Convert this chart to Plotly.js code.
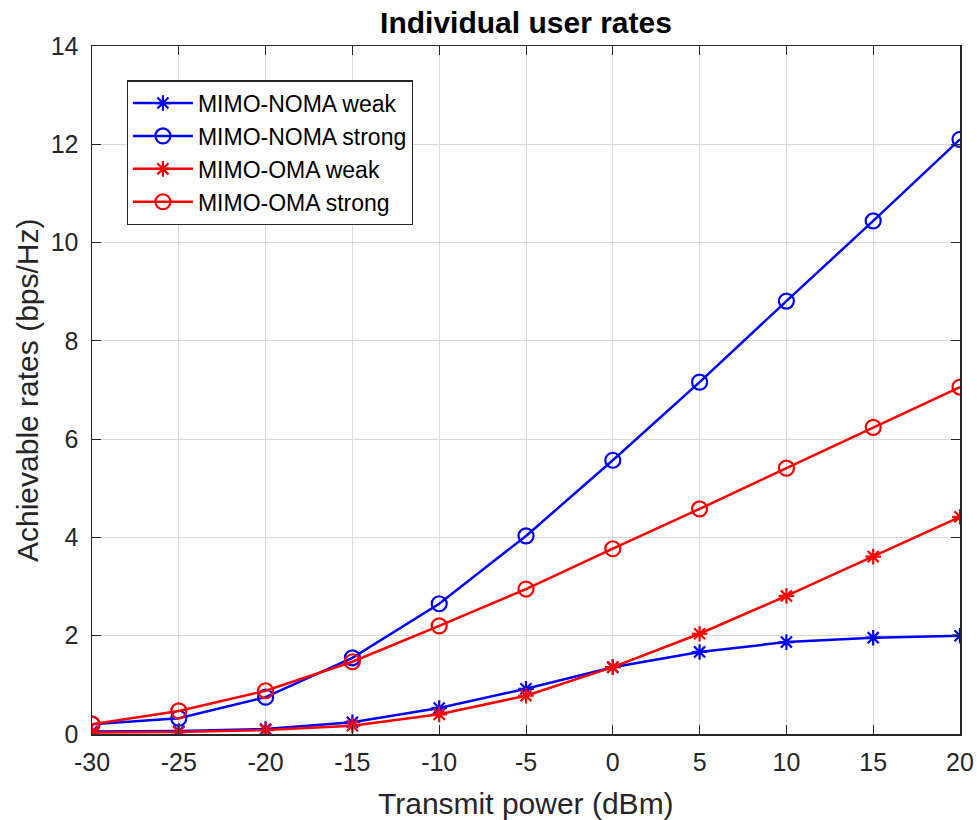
<!DOCTYPE html>
<html>
<head>
<meta charset="utf-8">
<script src="https://cdn.plot.ly/plotly-3.0.1.min.js"></script>
<style>body{margin:0;background:#fff;}#chart{width:977px;height:820px;}</style>
</head>
<body>
<div id="chart"></div>
<script>
const power = [-30, -25, -20, -15, -10, -5, 0, 5, 10, 15, 20];
const nomaWeak = [0.05, 0.06, 0.10, 0.24, 0.53, 0.92, 1.36, 1.67, 1.87, 1.96, 2.00];
const nomaStrong = [0.20, 0.32, 0.75, 1.55, 2.65, 4.03, 5.57, 7.16, 8.81, 10.44, 12.10];
const omaWeak = [0.03, 0.04, 0.08, 0.17, 0.40, 0.78, 1.36, 2.04, 2.81, 3.61, 4.42];
const omaStrong = [0.20, 0.47, 0.88, 1.47, 2.20, 2.95, 3.77, 4.58, 5.41, 6.24, 7.06];
const xTicks = [-30, -25, -20, -15, -10, -5, 0, 5, 10, 15, 20];
const yTicks = [0, 2, 4, 6, 8, 10, 12, 14];

function tr(y, name, color, sym) {
  return {
    x: power, y: y, name: name, type: 'scatter', mode: 'lines+markers',
    line: {color: color, width: 2.5},
    marker: {symbol: sym, size: sym === 'circle-open' ? 15 : 13, color: color, line: {color: color, width: 2.2}}
  };
}
const data = [
  tr(nomaWeak, 'MIMO-NOMA weak', '#0000ff', 'asterisk-open'),
  tr(nomaStrong, 'MIMO-NOMA strong', '#0000ff', 'circle-open'),
  tr(omaWeak, 'MIMO-OMA weak', '#ff0000', 'asterisk-open'),
  tr(omaStrong, 'MIMO-OMA strong', '#ff0000', 'circle-open')
];
const FONT = 'Liberation Sans, Arial, sans-serif';
const axisCommon = {
  showline: true, mirror: 'ticks', linecolor: '#262626', linewidth: 1.5,
  ticks: 'inside', ticklen: 9, tickcolor: '#262626', tickwidth: 1,
  showgrid: true, gridcolor: '#d9d9d9', gridwidth: 1, zeroline: false,
  tickfont: {family: FONT, size: 25, color: '#262626'}
};
const layout = {
  width: 977, height: 820,
  margin: {l: 92, r: 17, t: 46, b: 86},
  paper_bgcolor: '#ffffff', plot_bgcolor: '#ffffff',
  title: {text: '<b>Individual user rates</b>', xref: 'paper', x: 0.5, xanchor: 'center', y: 0.973, yanchor: 'middle',
    font: {family: FONT, size: 30, color: '#000000'}},
  xaxis: Object.assign({}, axisCommon, {
    range: [-30, 20], tickvals: xTicks, ticktext: xTicks.map(String), ticklabelstandoff: 5
  }),
  yaxis: Object.assign({}, axisCommon, {
    range: [0, 14], tickvals: yTicks, ticktext: yTicks.map(String), ticklabelstandoff: 7
  }),
  annotations: [
    {text: 'Transmit power (dBm)', xref: 'paper', yref: 'paper', x: 0.5, y: -0.1003,
     xanchor: 'center', yanchor: 'middle', showarrow: false,
     font: {family: FONT, size: 30, color: '#262626'}},
    {text: 'Achievable rates (bps/Hz)', xref: 'paper', yref: 'paper', x: -0.0749, y: 0.5,
     xanchor: 'center', yanchor: 'middle', textangle: -90, showarrow: false,
     font: {family: FONT, size: 30, color: '#262626'}}
  ],
  legend: {
    x: 0.04, y: 0.95, xanchor: 'left', yanchor: 'top',
    bgcolor: '#ffffff', bordercolor: '#262626', borderwidth: 1.2,
    font: {family: FONT, size: 23, color: '#000000'},
    tracegroupgap: 0, itemwidth: 60
  },
  showlegend: true
};
Plotly.newPlot('chart', data, layout, {displayModeBar: false, staticPlot: true});
</script>
</body>
</html>
